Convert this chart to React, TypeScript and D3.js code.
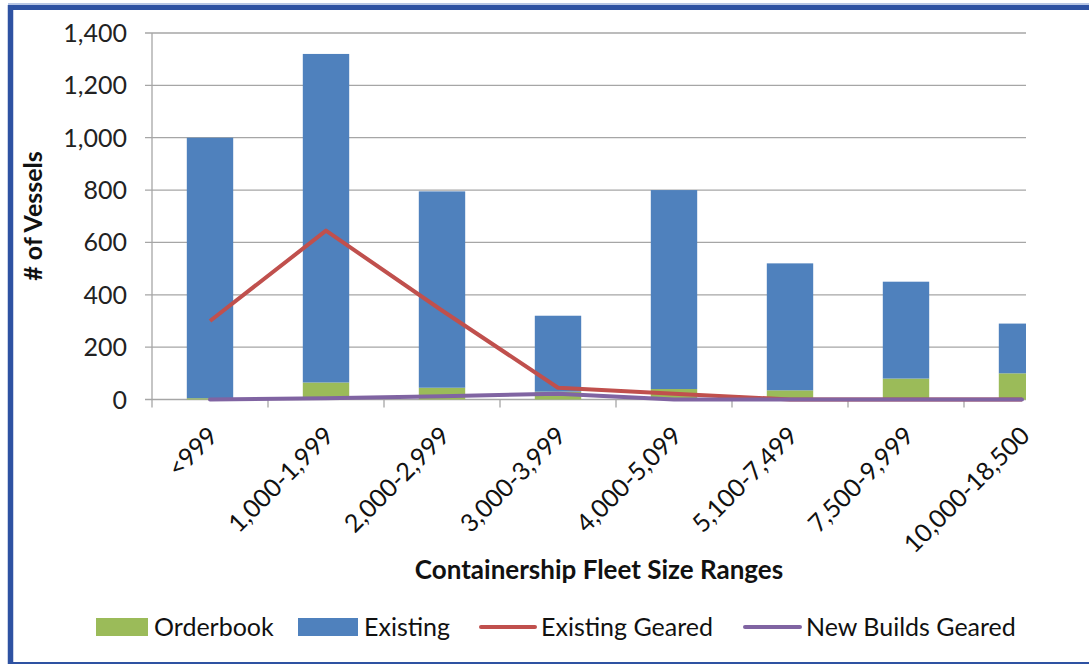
import React from 'react'
import * as d3 from 'd3'

// fleet size ranges (TEU)
const categories = ['<999', '1,000-1,999', '2,000-2,999', '3,000-3,999', '4,000-5,099', '5,100-7,499', '7,500-9,999', '10,000-18,500']
const orderbook = [5, 65, 45, 30, 40, 35, 80, 100]
const existing = [995, 1255, 750, 290, 760, 485, 370, 190]
const existingGeared = [300, 645, 340, 45, 22, 0, 0, 0]
const newBuildsGeared = [0, 5, 12, 22, 0, 0, 0, 0]
const yTicks = [0, 200, 400, 600, 800, 1000, 1200, 1400]

const legendItems = [
    { name: 'Orderbook', color: '#9BBB59', kind: 'rect', x: 96, w: 52 },
    { name: 'Existing', color: '#4F81BD', kind: 'rect', x: 298, w: 60 },
    { name: 'Existing Geared', color: '#C0504D', kind: 'line', x: 481, w: 54 },
    { name: 'New Builds Geared', color: '#8064A2', kind: 'line', x: 745, w: 55 },
]

const font = 'Lato, "Open Sans", sans-serif'

export default function App() {
    const width = 1089, height = 666
    const left = 152, right = 1080, top = 33, bottom = 399.5
    const clipRight = 1026

    const x = d3.scaleBand<string>().domain(categories).range([left, right]).paddingInner(0.6).paddingOuter(0.3)
    const band = d3.scaleBand<string>().domain(categories).range([left, right])
    const y = d3.scaleLinear().domain([0, 1400]).range([bottom, top])

    const lineGen = d3.line<number>()
        .x((d, i) => band(categories[i])! + band.bandwidth() / 2)
        .y(d => y(d))

    return (
        <svg width={width} height={height} style={{ position: 'absolute', left: 0, top: 0, background: '#fff' }}>
            <defs>
                <clipPath id="plotClip">
                    <rect x={0} y={0} width={clipRight} height={height} />
                </clipPath>
            </defs>
            {/* frame */}
            <line x1={8} x2={width} y1={4} y2={4} stroke="#9fb3dc" strokeWidth={1.5} />
            <line x1={8} x2={width} y1={7.5} y2={7.5} stroke="#2E52A2" strokeWidth={5} />
            <line x1={10.5} x2={10.5} y1={5} y2={664} stroke="#2E52A2" strokeWidth={5.5} />
            <line x1={8} x2={width} y1={663} y2={663} stroke="#2E52A2" strokeWidth={2} />

            {/* gridlines */}
            {yTicks.map(t => (
                <g key={t}>
                    <line x1={left - 7} x2={clipRight} y1={y(t)} y2={y(t)} stroke="#A6A6A6" strokeWidth={1.3} />
                    <text x={127} y={y(t)} dy="0.36em" textAnchor="end" fontFamily={font} fontSize={25} fill="#222">
                        {d3.format(',')(t)}
                    </text>
                </g>
            ))}
            <line x1={left} x2={left} y1={top} y2={bottom + 8} stroke="#A6A6A6" strokeWidth={1.3} />
            {categories.filter(c => band(c)! + band.bandwidth() < clipRight).map(c => (
                <line key={c} x1={band(c)! + band.bandwidth()} x2={band(c)! + band.bandwidth()} y1={bottom} y2={bottom + 8}
                    stroke="#A6A6A6" strokeWidth={1.3} />
            ))}

            <g clipPath="url(#plotClip)">
                {categories.map((c, i) => (
                    <g key={c}>
                        <rect x={x(c)} width={x.bandwidth()} y={y(orderbook[i])} height={y(0) - y(orderbook[i])} fill="#9BBB59" />
                        <rect x={x(c)} width={x.bandwidth()} y={y(orderbook[i] + existing[i])}
                            height={y(orderbook[i]) - y(orderbook[i] + existing[i])} fill="#4F81BD" />
                    </g>
                ))}
                <path d={lineGen(existingGeared)!} fill="none" stroke="#C0504D" strokeWidth={4} strokeLinejoin="round" />
                <path d={lineGen(newBuildsGeared)!} fill="none" stroke="#8064A2" strokeWidth={4} strokeLinejoin="round" strokeLinecap="round" />
            </g>

            {/* category labels */}
            {categories.map(c => {
                const cx = band(c)! + band.bandwidth() / 2 + 3
                const cy = 431
                return (
                    <text key={c} transform={`translate(${cx},${cy}) rotate(-45)`} textAnchor="end" dy="0.36em"
                        fontFamily={font} fontSize={25} fill="#111">{c}</text>
                )
            })}

            <text x={599} y={579} textAnchor="middle" fontFamily={font} fontWeight="bold" fontSize={26} fill="#111">
                Containership Fleet Size Ranges
            </text>
            <text transform="translate(42,216) rotate(-90)" textAnchor="middle" fontFamily={font} fontWeight="bold" fontSize={25} fill="#111">
                # of Vessels
            </text>

            {/* legend */}
            {legendItems.map(l => (
                <g key={l.name}>
                    {l.kind === 'rect'
                        ? <rect x={l.x} y={618} width={l.w} height={18} fill={l.color} />
                        : <line x1={l.x} x2={l.x + l.w} y1={627} y2={627} stroke={l.color} strokeWidth={4} strokeLinecap="round" />}
                    <text x={l.x + l.w + 6} y={627} dy="0.36em" fontFamily={font} fontSize={25} fill="#111">{l.name}</text>
                </g>
            ))}
        </svg>
    )
}
